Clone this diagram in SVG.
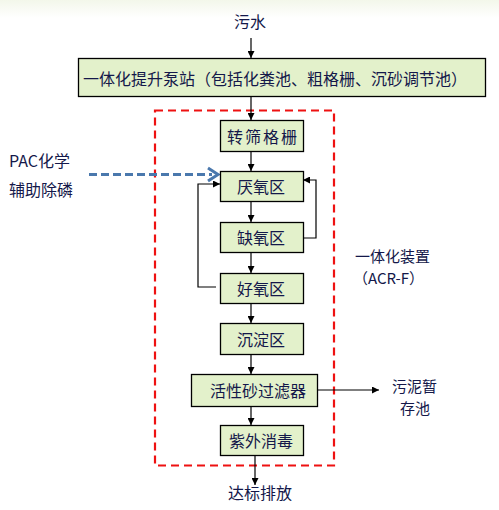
<svg xmlns="http://www.w3.org/2000/svg" width="499" height="510" viewBox="0 0 499 510">
<style>
.bx{fill:#e3f1cb;stroke:#000;stroke-width:1.3}
.t{font-family:"Noto Sans CJK SC","Liberation Sans",sans-serif;font-size:16px;fill:#14184a}
.s{font-size:15px}
.c{text-anchor:middle}
.ln{fill:none;stroke:#000;stroke-width:1.2}
</style>
<defs>
<linearGradient id="bg" x1="0" y1="0" x2="0" y2="1">
<stop offset="0" stop-color="#f3f7ea"/>
<stop offset="1" stop-color="#ffffff"/>
</linearGradient>
<marker id="ar" viewBox="0 0 10 10" refX="10" refY="5" markerWidth="7" markerHeight="7" markerUnits="userSpaceOnUse" orient="auto">
<path d="M0,0 L10,5 L0,10 z" fill="#000"/>
</marker>
</defs>
<rect x="0" y="0" width="499" height="510" fill="#fff"/>
<rect x="0" y="0" width="499" height="18" fill="url(#bg)"/>
<g id="labels">
<text class="t c" x="250" y="28">污水</text>
<text class="t" x="9" y="167">PAC化学</text>
<text class="t" x="9" y="196">辅助除磷</text>
<text class="t s" x="355" y="262">一体化装置</text>
<text class="t s" x="353" y="284">（ACR-F）</text>
<text class="t s" x="392" y="392">污泥暂</text>
<text class="t s" x="400" y="414">存池</text>
<text class="t c" x="260" y="499">达标排放</text>
</g>
<rect id="acr" x="155" y="110.5" width="179" height="355" fill="none" stroke="#ee1111" stroke-width="2.2" stroke-dasharray="8,5"/>
<g id="connectors">
<line class="ln" x1="251" y1="38" x2="251" y2="58" marker-end="url(#ar)"/>
<line class="ln" x1="251" y1="96" x2="251" y2="120" marker-end="url(#ar)"/>
<line class="ln" x1="251" y1="151" x2="251" y2="171" marker-end="url(#ar)"/>
<line class="ln" x1="251" y1="201" x2="251" y2="222" marker-end="url(#ar)"/>
<line class="ln" x1="251" y1="252" x2="251" y2="273" marker-end="url(#ar)"/>
<line class="ln" x1="251" y1="303" x2="251" y2="323" marker-end="url(#ar)"/>
<line class="ln" x1="251" y1="354" x2="251" y2="374" marker-end="url(#ar)"/>
<line class="ln" x1="251" y1="406" x2="251" y2="425" marker-end="url(#ar)"/>
<line class="ln" x1="255" y1="455" x2="255" y2="485" marker-end="url(#ar)"/>
<line class="ln" x1="317" y1="390" x2="379" y2="390" marker-end="url(#ar)"/>
<polyline class="ln" points="216,287 198,287 198,184 220,184" marker-end="url(#ar)"/>
<polyline class="ln" points="303,238 316,238 316,180 303,180" marker-end="url(#ar)"/>
<line x1="89" y1="174.5" x2="212" y2="174.5" stroke="#4a78ad" stroke-width="3" stroke-dasharray="8,4"/>
<polyline points="208,168 218,174.5 208,181" fill="none" stroke="#4a78ad" stroke-width="3"/>
</g>
<g id="n_lift"><rect class="bx" x="78.5" y="58.5" width="407" height="38"/><text class="t c" x="275" y="78" dominant-baseline="central">一体化提升泵站（包括化粪池、粗格栅、沉砂调节池）</text></g>
<g id="n_screen"><rect class="bx" x="220.5" y="120.5" width="83" height="31"/><text class="t c" x="263" y="136" dominant-baseline="central" letter-spacing="2">转筛格栅</text></g>
<g id="n_ana"><rect class="bx" x="220.5" y="171.5" width="83" height="30"/><text class="t c" x="261" y="186" dominant-baseline="central">厌氧区</text></g>
<g id="n_anox"><rect class="bx" x="220.5" y="222.5" width="83" height="30"/><text class="t c" x="261" y="237" dominant-baseline="central">缺氧区</text></g>
<g id="n_aer"><rect class="bx" x="220.5" y="273.5" width="83" height="30"/><text class="t c" x="261" y="288" dominant-baseline="central">好氧区</text></g>
<g id="n_sed"><rect class="bx" x="220.5" y="323.5" width="83" height="31"/><text class="t c" x="261" y="339" dominant-baseline="central">沉淀区</text></g>
<g id="n_sand"><rect class="bx" x="191.5" y="374.5" width="126" height="32"/><text class="t c" x="258" y="390" dominant-baseline="central">活性砂过滤器</text></g>
<g id="n_uv"><rect class="bx" x="220.5" y="425.5" width="83" height="30"/><text class="t c" x="261" y="440" dominant-baseline="central">紫外消毒</text></g>
</svg>
